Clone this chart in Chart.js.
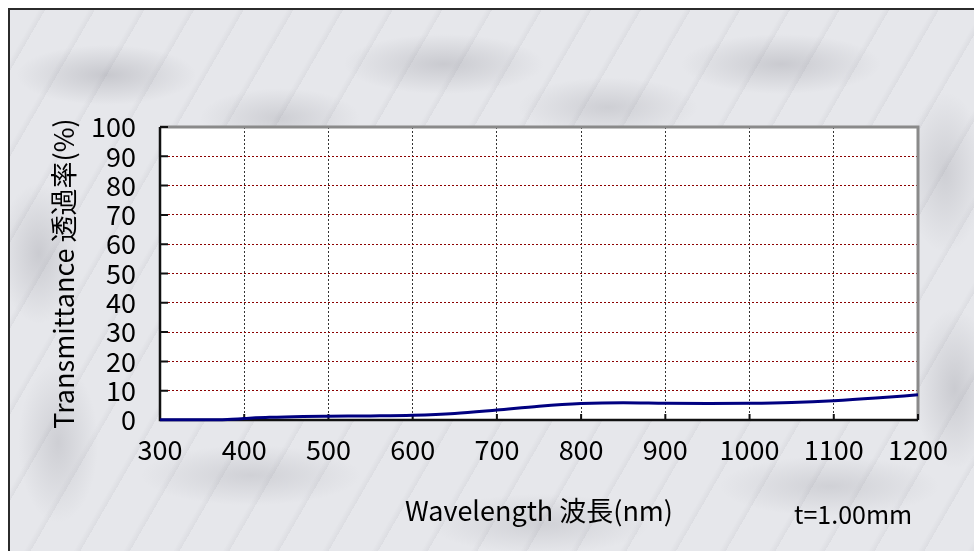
<!DOCTYPE html>
<html>
<head>
<meta charset="utf-8">
<script src="https://cdn.jsdelivr.net/npm/chart.js@4/dist/chart.umd.min.js"></script>
<style>
    html, body { margin: 0; padding: 0; background: #ffffff; }
    #wrap { position: relative; width: 974px; height: 551px; overflow: hidden; }
    #marble {
        position: absolute; left: 8px; top: 8px; right: 0; bottom: 0;
        border-top: 2px solid #2b2b2b; border-left: 2px solid #2b2b2b;
        background:
            radial-gradient(ellipse 90px 30px at 10% 12%, rgba(120,120,130,0.28), transparent),
            radial-gradient(ellipse 80px 30px at 28% 20%, rgba(120,120,130,0.22), transparent),
            radial-gradient(ellipse 100px 30px at 45% 10%, rgba(120,120,130,0.26), transparent),
            radial-gradient(ellipse 90px 30px at 62% 18%, rgba(120,120,130,0.22), transparent),
            radial-gradient(ellipse 100px 30px at 80% 10%, rgba(120,120,130,0.26), transparent),
            radial-gradient(ellipse 40px 70px at 3% 45%, rgba(120,120,130,0.25), transparent),
            radial-gradient(ellipse 40px 80px at 5% 80%, rgba(120,120,130,0.22), transparent),
            radial-gradient(ellipse 40px 80px at 97% 30%, rgba(120,120,130,0.22), transparent),
            radial-gradient(ellipse 40px 80px at 98% 70%, rgba(120,120,130,0.25), transparent),
            radial-gradient(ellipse 110px 30px at 25% 86%, rgba(120,120,130,0.2), transparent),
            radial-gradient(ellipse 110px 30px at 55% 95%, rgba(120,120,130,0.2), transparent),
            radial-gradient(ellipse 110px 30px at 85% 88%, rgba(120,120,130,0.2), transparent),
            repeating-linear-gradient(-60deg, rgba(150,150,160,0.12) 0, transparent 6px, transparent 43px),
            #e6e7eb;
    }
    canvas { position: absolute; left: 0; top: 0; }
</style>
</head>
<body>
<div id="wrap">
    <div id="marble"></div>
    <canvas id="chart" width="974" height="551"></canvas>
</div>
<script>
// wavelength (nm) and transmittance (%)
const wavelengths = [300, 350, 380, 400, 430, 470, 500, 550, 600, 650, 700, 750, 800, 850, 900, 950, 1000, 1050, 1100, 1150, 1200];
const transmittance = [0.1, 0.1, 0.2, 0.5, 0.9, 1.2, 1.3, 1.4, 1.6, 2.2, 3.4, 4.7, 5.6, 5.9, 5.7, 5.6, 5.7, 6.0, 6.6, 7.5, 8.6];
const xTicks = [300, 400, 500, 600, 700, 800, 900, 1000, 1100, 1200];
const yTicks = [0, 10, 20, 30, 40, 50, 60, 70, 80, 90, 100];
const xTitle = 'Wavelength 波長(nm)';
const yTitle = 'Transmittance 透過率(%)';
const thickness = 't=1.00mm';

const fontFamily = '"Noto Sans CJK JP", "Liberation Sans", sans-serif';

// white plot area, frame and the short inner tick marks
const plotFrame = {
    id: 'plotFrame',
    beforeDraw(chart) {
        const a = chart.chartArea, ctx = chart.ctx;
        ctx.save();
        ctx.fillStyle = '#ffffff';
        ctx.fillRect(a.left, a.top, a.right - a.left, a.bottom - a.top);
        ctx.restore();
    },
    beforeDatasetsDraw(chart) {
        const a = chart.chartArea, ctx = chart.ctx;
        const xs = chart.scales.x, ys = chart.scales.y;
        ctx.save();
        // top and right edges grey
        ctx.strokeStyle = '#8a8a8a';
        ctx.lineWidth = 3;
        ctx.beginPath();
        ctx.moveTo(a.left, a.top);
        ctx.lineTo(a.right, a.top);
        ctx.lineTo(a.right, a.bottom);
        ctx.stroke();
        // left and bottom edges black
        ctx.strokeStyle = '#111111';
        ctx.lineWidth = 2.5;
        ctx.beginPath();
        ctx.moveTo(a.left, a.top);
        ctx.lineTo(a.left, a.bottom);
        ctx.lineTo(a.right, a.bottom);
        ctx.stroke();
        // inner ticks
        ctx.lineWidth = 2;
        ctx.beginPath();
        yTicks.forEach(v => {
            const y = ys.getPixelForValue(v);
            ctx.moveTo(a.left, y);
            ctx.lineTo(a.left + 8, y);
        });
        xTicks.forEach(v => {
            const x = xs.getPixelForValue(v);
            ctx.moveTo(x, a.bottom);
            ctx.lineTo(x, a.bottom - 6);
        });
        ctx.stroke();
        ctx.restore();
    },
    afterDraw(chart) {
        const ctx = chart.ctx;
        ctx.save();
        ctx.fillStyle = '#000000';
        ctx.font = '25px ' + fontFamily;
        ctx.textAlign = 'left';
        ctx.textBaseline = 'middle';
        ctx.fillText(thickness, 794, 514);
        ctx.restore();
    }
};

const ctx = document.getElementById('chart').getContext('2d');
new Chart(ctx, {
    type: 'line',
    data: {
        datasets: [{
            data: wavelengths.map((w, i) => ({ x: w, y: transmittance[i] })),
            borderColor: '#000080',
            borderWidth: 3,
            pointRadius: 0,
            fill: false,
            cubicInterpolationMode: 'monotone',
            clip: false
        }]
    },
    options: {
        responsive: false,
        animation: false,
        layout: {
            padding: { left: 0, top: 127, right: 56, bottom: 0 }
        },
        plugins: {
            legend: { display: false },
            tooltip: { enabled: false }
        },
        scales: {
            x: {
                type: 'linear',
                min: 300,
                max: 1200,
                afterBuildTicks: scale => { scale.ticks = xTicks.map(v => ({ value: v })); },
                afterFit: scale => { scale.height = 131; },
                grid: {
                    color: '#333333',
                    lineWidth: 1,
                    drawTicks: false
                },
                border: { display: false, dash: [2, 2] },
                ticks: {
                    color: '#000000',
                    padding: 14,
                    maxRotation: 0,
                    autoSkip: false,
                    font: { family: fontFamily, size: 27 },
                    callback: v => String(v)
                },
                title: {
                    display: true,
                    text: xTitle,
                    color: '#000000',
                    font: { family: fontFamily, size: 27 },
                    padding: { top: 0, bottom: 24 }
                }
            },
            y: {
                min: 0,
                max: 100,
                afterBuildTicks: scale => { scale.ticks = yTicks.map(v => ({ value: v })); },
                afterFit: scale => { scale.width = 160; },
                grid: {
                    color: '#8b0000',
                    lineWidth: 1,
                    drawTicks: false
                },
                border: { display: false, dash: [2, 2] },
                ticks: {
                    color: '#000000',
                    padding: 24,
                    autoSkip: false,
                    font: { family: fontFamily, size: 27 },
                    callback: v => String(v)
                },
                title: {
                    display: true,
                    text: yTitle,
                    color: '#000000',
                    font: { family: fontFamily, size: 27 },
                    padding: { top: 48, bottom: 0 }
                }
            }
        }
    },
    plugins: [plotFrame]
});
</script>
</body>
</html>
